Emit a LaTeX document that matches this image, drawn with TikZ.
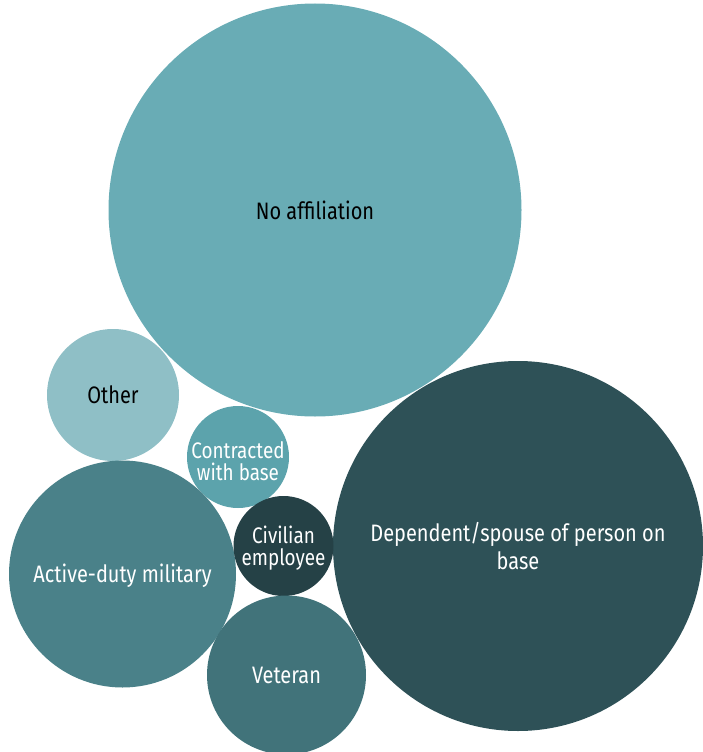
\documentclass[tikz,border=0pt]{standalone}
\usepackage{fontspec}
\setmainfont{Fira Sans}[FakeStretch=0.84]

\definecolor{noaffC}{HTML}{69ACB5}
\definecolor{otherC}{HTML}{8FBFC6}
\definecolor{contrC}{HTML}{5CA3AC}
\definecolor{activeC}{HTML}{4A8189}
\definecolor{civilC}{HTML}{254146}
\definecolor{dependC}{HTML}{2E5157}
\definecolor{veteranC}{HTML}{41737A}

\tikzset{
  bubble/.style={circle, inner sep=0pt, draw=none, fill=#1},
  lbl/.style={align=center, font=\fontsize{23.8}{28}\selectfont, inner sep=0pt},
  smalllbl/.style={lbl, font=\fontsize{22.5}{22}\selectfont},
}

\begin{document}
\begin{tikzpicture}[x=1pt, y=-1pt]

\useasboundingbox (0,0) rectangle (703,752);

% Bubbles
\node[bubble=noaffC, minimum size=413] (noaff) at (315,210) {};
\node[bubble=dependC, minimum size=370] (depend) at (518,546) {};
\node[bubble=otherC, minimum size=132] (other) at (113,395) {};
\node[bubble=contrC, minimum size=102] (contr) at (238,457) {};
\node[bubble=activeC, minimum size=227] (active) at (122.5,574) {};
\node[bubble=civilC, minimum size=100] (civil) at (283.5,546) {};
\node[bubble=veteranC, minimum size=159] (veteran) at (286.5,675) {};

% Labels
\node[lbl, black] (noaffT) at (noaff) {No affiliation};
\node[lbl, white] (dependT) at (depend) {Dependent/spouse of person on\\base};
\node[lbl, black] (otherT) at (other) {Other};
\node[smalllbl, white, yshift=-4pt] (contrT) at (contr) {Contracted\\with base};
\node[lbl, white, yshift=-2pt] (activeT) at (active) {Active-duty military};
\node[smalllbl, white, yshift=-2pt] (civilT) at (civil) {Civilian\\employee};
\node[lbl, white] (veteranT) at (veteran) {Veteran};

\end{tikzpicture}
\end{document}
